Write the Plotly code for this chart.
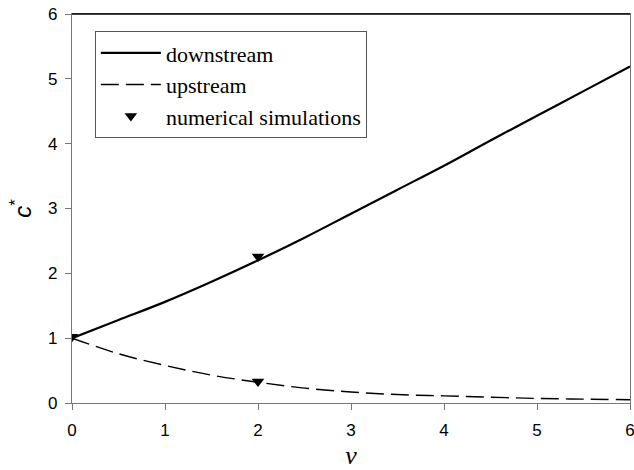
import plotly.graph_objects as go

# Dimensionless speed v and the two fronts' c* values
v = [0, 0.5, 1, 1.5, 2, 2.5, 3, 3.5, 4, 4.5, 5, 5.5, 6]
downstream = [1.00, 1.28, 1.56, 1.87, 2.20, 2.55, 2.92, 3.29, 3.66, 4.05, 4.43, 4.81, 5.19]
upstream = [1.00, 0.76, 0.58, 0.43, 0.32, 0.23, 0.17, 0.13, 0.11, 0.09, 0.07, 0.06, 0.05]

# Results from numerical simulations
sim_v = [0, 2, 2]
sim_c = [1.02, 2.26, 0.33]

ticks = [0, 1, 2, 3, 4, 5, 6]

fig = go.Figure()
fig.add_trace(go.Scatter(
    x=v, y=downstream, mode="lines", name="downstream",
    line=dict(color="black", width=2.2, shape="spline"),
))
fig.add_trace(go.Scatter(
    x=v, y=upstream, mode="lines", name="upstream",
    line=dict(color="black", width=1.4, dash="18px,7px", shape="spline"),
))
fig.add_trace(go.Scatter(
    x=sim_v, y=sim_c, mode="markers", name="numerical simulations",
    marker=dict(symbol="triangle-down", size=11, color="black"),
))

axis_common = dict(
    showgrid=False, zeroline=False,
    showline=True, linecolor="#777", linewidth=1.3, mirror=True,
    ticks="outside", ticklen=6, tickcolor="#777", tickwidth=1.3,
    tickfont=dict(family="Liberation Sans, Arial", size=17, color="black"),
    tickvals=ticks, ticklabeloverflow="allow",
)

fig.update_xaxes(
    range=[0, 6], **axis_common, ticklabelstandoff=5,
    title=dict(text="<i>v</i>", font=dict(family="Liberation Serif, Times New Roman", size=26, color="black"), standoff=12),
)
fig.update_yaxes(
    range=[0, 6], **axis_common, ticklabelstandoff=4,
    title=dict(text="<i>c</i><sup>*</sup>", font=dict(family="Liberation Sans, Arial", size=24, color="black"), standoff=9),
)

# dark frame edge along the top of the plotting area
fig.add_shape(type="line", xref="paper", yref="paper", x0=0, x1=1, y0=1, y1=1,
              line=dict(color="black", width=1.3))

fig.update_layout(
    width=634, height=470,
    margin=dict(l=72, r=4, t=14, b=67, autoexpand=False),
    paper_bgcolor="white", plot_bgcolor="white",
    legend=dict(
        x=0.041, y=0.956, xanchor="left", yanchor="top",
        bgcolor="white", bordercolor="#555", borderwidth=1,
        font=dict(family="Liberation Serif, Times New Roman", size=22, color="black"),
        itemwidth=60, tracegroupgap=0,
    ),
    showlegend=True,
)

fig.write_html("out.html")
